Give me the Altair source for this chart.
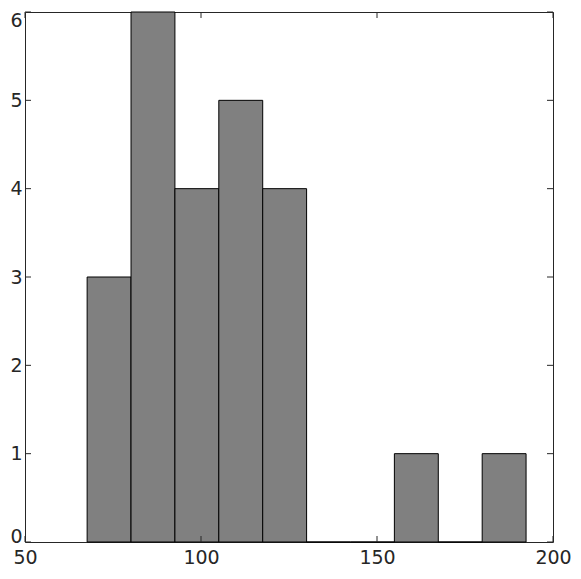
import altair as alt
import pandas as pd

# histogram bins (left edge, right edge) and counts
bin_left = [67.65, 80.12, 92.59, 105.06, 117.53, 130.00, 142.47, 154.94, 167.41, 179.88]
bin_right = [80.12, 92.59, 105.06, 117.53, 130.00, 142.47, 154.94, 167.41, 179.88, 192.35]
counts = [3, 6, 4, 5, 4, 0, 0, 1, 0, 1]

x_ticks = [50, 100, 150, 200]
y_ticks = [0, 1, 2, 3, 4, 5, 6]

W, H = 528, 530
INK = "#262626"
FONT = "DejaVu Sans"
FS = 19

df = pd.DataFrame({"lo": bin_left, "hi": bin_right, "n": counts})
dx = pd.DataFrame({"t": x_ticks})
dy = pd.DataFrame({"t": y_ticks})

xscale = alt.Scale(domain=[50, 200], nice=False, zero=False)
yscale = alt.Scale(domain=[0, 6], nice=False)

bars = alt.Chart(df).mark_rect(fill="#808080", stroke="#000000", strokeWidth=1).encode(
    x=alt.X("lo:Q", scale=xscale, title=None,
            axis=alt.Axis(values=x_ticks, format="d", domain=False, ticks=False, tickSize=0, grid=False,
                          labelFontSize=FS, labelFont=FONT, labelColor=INK, labelPadding=6,
                          labelFlush=False, title=None)),
    x2="hi:Q",
    y=alt.Y("n:Q", scale=yscale, title=None,
            axis=alt.Axis(values=y_ticks, format="d", domain=False, ticks=False, tickSize=0, grid=False,
                          labelFontSize=FS, labelFont=FONT, labelColor=INK, labelPadding=3,
                          labelFlush=False, title=None,
                          labelOffset={"condition": [
                              {"test": "datum.value == 6", "value": 8},
                              {"test": "datum.value == 0", "value": -6}], "value": 0})),
    y2=alt.Y2(datum=0),
)

tl = 6
bottom_ticks = alt.Chart(dx).mark_rule(color=INK, strokeWidth=1).encode(
    x=alt.X("t:Q", scale=xscale, title=None), y=alt.value(H), y2=alt.value(H - tl))
top_ticks = alt.Chart(dx).mark_rule(color=INK, strokeWidth=1).encode(
    x=alt.X("t:Q", scale=xscale, title=None), y=alt.value(0), y2=alt.value(tl))
left_ticks = alt.Chart(dy).mark_rule(color=INK, strokeWidth=1).encode(
    y=alt.Y("t:Q", scale=yscale, title=None), x=alt.value(0), x2=alt.value(tl))
right_ticks = alt.Chart(dy).mark_rule(color=INK, strokeWidth=1).encode(
    y=alt.Y("t:Q", scale=yscale, title=None), x=alt.value(W), x2=alt.value(W - tl))

chart = alt.layer(bars, bottom_ticks, top_ticks, left_ticks, right_ticks).properties(
    width=W, height=H,
    autosize=alt.AutoSizeParams(type="none"),
    padding={"left": 17, "top": 4, "right": 20, "bottom": 29},
    background="white",
).configure_view(stroke=INK, strokeWidth=1)

chart.save("out.html", embed_options={"renderer": "svg", "actions": False})
